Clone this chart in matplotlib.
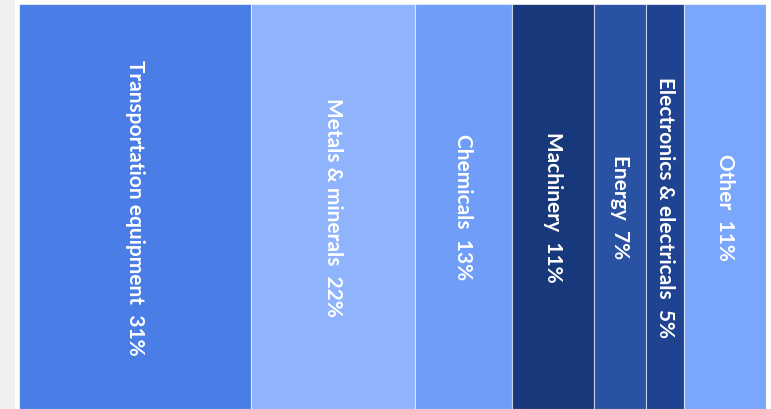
import matplotlib
matplotlib.use("Agg")
import matplotlib.pyplot as plt
import numpy as np

# Datos del gráfico
categorias = ["Transportation equipment", "Metals & minerals", "Chemicals",
              "Machinery", "Energy", "Electronics & electricals", "Other"]
porcentajes = [31, 22, 13, 11, 7, 5, 11]
colores = ["#4a7ee6", "#8fb4fd", "#6f9df7", "#17387a", "#2952a2", "#1f4390", "#7aa6fc"]

plt.rcParams['font.family'] = ['Lato', 'DejaVu Sans']

fig = plt.figure(figsize=(7.71, 4.10), dpi=100)
fig.patch.set_facecolor("white")

# franja gris a la izquierda
fig.add_artist(plt.Rectangle((0, 0), 15 / 771, 1, transform=fig.transFigure,
                             facecolor="#efefef", edgecolor="none"))

ax = fig.add_axes([19 / 771, 0, (766 - 19) / 771, 405 / 410])

izquierdas = np.concatenate([[0], np.cumsum(porcentajes)[:-1]])
ax.bar(izquierdas, [1] * len(porcentajes), width=porcentajes, align="edge",
       color=colores, edgecolor=(1, 1, 1, 0.6), linewidth=0.8)

for x0, w, cat, p in zip(izquierdas, porcentajes, categorias, porcentajes):
    ax.text(x0 + w / 2, 0.5, f"{cat}  {p}%", rotation=-90, ha="center", va="center",
            color="white", fontsize=15, fontweight="bold")

ax.set_xlim(0, 100)
ax.set_ylim(0, 1)
ax.axis("off")

fig.savefig("out.png", dpi=100)
